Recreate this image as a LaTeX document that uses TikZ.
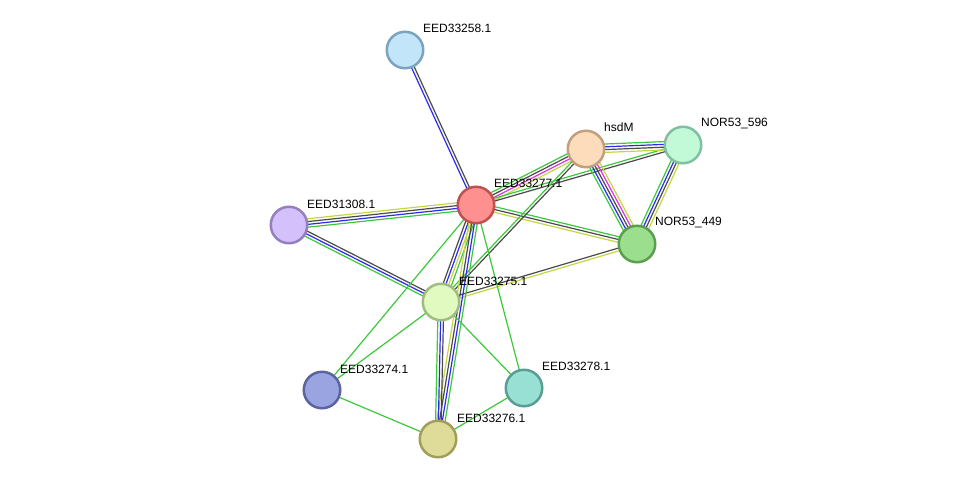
\documentclass[tikz,border=0pt]{standalone}
\usepackage{fontspec}
\setmainfont{Liberation Sans}
\usetikzlibrary{calc}
\pgfdeclarelayer{bg}
\pgfsetlayers{bg,main}
\definecolor{sgreen}{HTML}{3CC83C}
\definecolor{sblue}{HTML}{2B2BF0}
\definecolor{sblack}{HTML}{4A4A4A}
\definecolor{smag}{HTML}{E030E0}
\definecolor{syellow}{HTML}{C4D640}
\tikzset{
  snode/.style={circle, minimum size=36.5pt, inner sep=0pt, line width=2.5pt},
  lab/.style={anchor=west, inner sep=0pt, font=\fontsize{12}{14}\selectfont},
  edgeline/.style={line width=1.2pt}
}
\newcommand\sedge[4]{%
  \foreach \col [count=\i from 0] in {#4} {
    \pgfmathsetmacro\off{(\i-(#3-1)/2)*2.8}
    \draw[edgeline, draw=\col] ($(#1)!\off pt!90:(#2)$) -- ($(#2)!\off pt!-90:(#1)$);
  }}
\begin{document}
\begin{tikzpicture}[x=1pt,y=-1pt]
\useasboundingbox (0,0) rectangle (976,485);
% nodes
\node[snode, fill={rgb,255:red,194;green,229;blue,250}, draw={rgb,255:red,122;green,164;blue,192}] (n58) at (405,50) {};
\node[snode, fill={rgb,255:red,255;green,144;blue,144}, draw={rgb,255:red,192;green,80;blue,80}] (n77) at (476,205) {};
\node[snode, fill={rgb,255:red,253;green,220;blue,188}, draw={rgb,255:red,192;green,160;blue,128}] (hsd) at (586,149) {};
\node[snode, fill={rgb,255:red,194;green,250;blue,216}, draw={rgb,255:red,128;green,192;blue,160}] (n596) at (683,145) {};
\node[snode, fill={rgb,255:red,154;green,222;blue,142}, draw={rgb,255:red,90;green,158;blue,80}] (n449) at (637,244) {};
\node[snode, fill={rgb,255:red,212;green,192;blue,250}, draw={rgb,255:red,148;green,128;blue,192}] (n08) at (289,225) {};
\node[snode, fill={rgb,255:red,224;green,250;blue,192}, draw={rgb,255:red,160;green,188;blue,128}] (n75) at (441,302) {};
\node[snode, fill={rgb,255:red,154;green,164;blue,224}, draw={rgb,255:red,90;green,100;blue,160}] (n74) at (322,390) {};
\node[snode, fill={rgb,255:red,152;green,224;blue,212}, draw={rgb,255:red,88;green,158;blue,148}] (n78) at (524,388) {};
\node[snode, fill={rgb,255:red,222;green,220;blue,152}, draw={rgb,255:red,160;green,158;blue,88}] (n76) at (438,439) {};
% labels
\node[lab] (l58) at (423,28) {EED33258.1};
\node[lab] (l77) at (494,183) {EED33277.1};
\node[lab] (lhsd) at (604,127) {hsdM};
\node[lab] (l596) at (701,123) {NOR53\_596};
\node[lab] (l449) at (655,222) {NOR53\_449};
\node[lab] (l08) at (307,204) {EED31308.1};
\node[lab] (l75) at (459,281) {EED33275.1};
\node[lab] (l74) at (340,369) {EED33274.1};
\node[lab] (l78) at (542,366) {EED33278.1};
\node[lab] (l76) at (457,418) {EED33276.1};
% edges
\begin{pgfonlayer}{bg}
\sedge{n58}{n77}{2}{sblue,sblack}
\sedge{n77}{hsd}{4}{syellow,smag,sblack,sgreen}
\sedge{n77}{n596}{2}{sblack,sgreen}
\sedge{n77}{n449}{3}{syellow,sblack,sgreen}
\sedge{n77}{n08}{4}{syellow,sblack,sblue,sgreen}
\sedge{n08}{n75}{3}{sgreen,sblue,sblack}
\sedge{hsd}{n596}{4}{syellow,sblack,sblue,sgreen}
\sedge{hsd}{n449}{5}{sgreen,sblue,sblack,smag,syellow}
\sedge{n596}{n449}{4}{sgreen,sblue,sblack,syellow}
\sedge{hsd}{n75}{2}{sgreen,sblack}
\sedge{n75}{n449}{2}{syellow,sblack}
\sedge{n77}{n75}{4}{sblack,sblue,syellow,sgreen}
\sedge{n77}{n76}{4}{syellow,sblack,sblue,sgreen}
\sedge{n75}{n76}{3}{sgreen,sblue,sblack}
\sedge{n77}{n74}{1}{sgreen}
\sedge{n77}{n78}{1}{sgreen}
\sedge{n75}{n74}{1}{sgreen}
\sedge{n75}{n78}{1}{sgreen}
\sedge{n74}{n76}{1}{sgreen}
\sedge{n78}{n76}{1}{sgreen}
\end{pgfonlayer}
\end{tikzpicture}
\end{document}
